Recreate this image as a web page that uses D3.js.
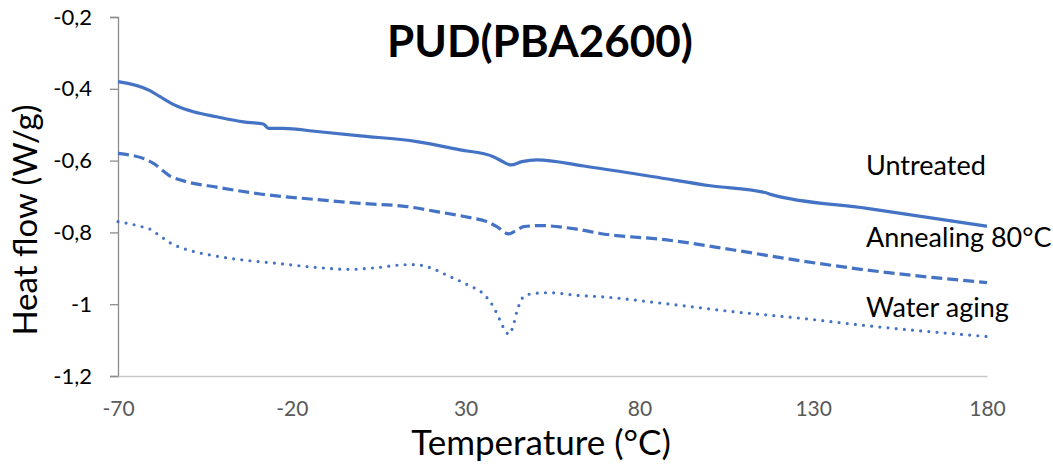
<!DOCTYPE html>
<html>
<head>
<meta charset="utf-8">
<script src="https://cdn.jsdelivr.net/npm/d3@7"></script>
<style>
  html, body { margin: 0; padding: 0; background: #fff; }
  svg { display: block; }
  text { font-family: Lato, "Open Sans", "Liberation Sans", sans-serif; }
</style>
</head>
<body>
<svg id="chart" width="1053" height="466"></svg>
<script>
// DSC heat-flow curves of PUD(PBA2600)
const untreatedTemp = [-70, -60.8, -57.9, -53.1, -48.3, -41.6, -33.9, -28.2, -26.7, -22.4, -12.8, -0.3, 16, 28.4, 38, 40.9, 43, 46.2, 50.5, 64, 84.1, 100.4, 116.2, 117.7, 145.5, 180];
const untreatedFlow = [-0.380, -0.405, -0.422, -0.448, -0.464, -0.478, -0.492, -0.498, -0.510, -0.510, -0.519, -0.531, -0.547, -0.570, -0.589, -0.604, -0.612, -0.603, -0.598, -0.615, -0.645, -0.670, -0.689, -0.694, -0.733, -0.783];

const annealTemp = [-70, -61.7, -59.8, -55, -50.2, -41.6, -29.1, -14.7, -0.3, 13.1, 21.7, 31.3, 36.1, 39, 42.4, 44.3, 46.7, 51.5, 62, 68.7, 87.9, 107.1, 126.3, 145.5, 180];
const annealFlow = [-0.580, -0.598, -0.608, -0.643, -0.659, -0.674, -0.693, -0.707, -0.719, -0.728, -0.742, -0.759, -0.770, -0.784, -0.804, -0.796, -0.784, -0.781, -0.791, -0.803, -0.821, -0.849, -0.879, -0.905, -0.940];

const waterTemp = [-70, -63.2, -60.8, -58.9, -57, -55, -52.6, -48.3, -43.5, -33.9, -24.3, -14.7, -3.2, 3.5, 13.1, 15.5, 20.3, 24.6, 30.8, 35.2, 38, 40, 41.1, 42.5, 43.6, 44.8, 46.9, 49.1, 53.9, 63, 68.7, 87.9, 107.1, 126.3, 145.5, 180];
const waterFlow = [-0.770, -0.784, -0.791, -0.803, -0.816, -0.829, -0.840, -0.853, -0.863, -0.877, -0.886, -0.896, -0.903, -0.899, -0.890, -0.890, -0.900, -0.919, -0.947, -0.972, -1.007, -1.047, -1.069, -1.084, -1.063, -1.019, -0.977, -0.971, -0.968, -0.976, -0.979, -0.999, -1.021, -1.039, -1.060, -1.090];

const seriesNames = ["Untreated", "Annealing 80°C", "Water aging"];
const xTicks = [-70, -20, 30, 80, 130, 180];
const yTicks = [-0.2, -0.4, -0.6, -0.8, -1, -1.2];

const svg = d3.select("#chart");
const plotLeft = 118, plotRight = 987, plotTop = 17, plotBottom = 376;
const color = "#4472C4";

const x = d3.scaleLinear().domain([-70, 180]).range([plotLeft, plotRight]);
const y = d3.scaleLinear().domain([-1.2, -0.2]).range([plotBottom, plotTop]);
const fmt = v => String(+v.toFixed(1)).replace(".", ",");

// Y axis
const yAxis = svg.append("g").attr("transform", `translate(${plotLeft},0)`)
  .call(d3.axisLeft(y).tickValues(yTicks).tickSize(8).tickPadding(18).tickFormat(fmt));
yAxis.select(".domain").attr("stroke", "#8c8c8c").attr("stroke-width", 1.3);
yAxis.selectAll(".tick line").attr("stroke", "#8c8c8c").attr("stroke-width", 1.3);
yAxis.selectAll(".tick text").attr("fill", "#000").attr("font-size", 22)
  .attr("font-family", "Lato, sans-serif");

// X axis
const xAxis = svg.append("g").attr("transform", `translate(0,${plotBottom})`)
  .call(d3.axisBottom(x).tickValues(xTicks).tickSize(0).tickPadding(25).tickFormat(d => d));
xAxis.select(".domain").attr("stroke", "#c8c8c8").attr("stroke-width", 1.3);
xAxis.selectAll(".tick text").attr("fill", "#595959").attr("font-size", 21)
  .attr("font-family", "Lato, sans-serif");

// Curves
const line = d3.line().x(d => x(d[0])).y(d => y(d[1])).curve(d3.curveMonotoneX);
const zip = (t, v) => t.map((d, i) => [d, v[i]]);

svg.append("path").datum(zip(untreatedTemp, untreatedFlow))
  .attr("d", line).attr("fill", "none").attr("stroke", color)
  .attr("stroke-width", 3.2).attr("stroke-linejoin", "round");

svg.append("path").datum(zip(annealTemp, annealFlow))
  .attr("d", line).attr("fill", "none").attr("stroke", color)
  .attr("stroke-width", 3.2).attr("stroke-dasharray", "11,5");

svg.append("path").datum(zip(waterTemp, waterFlow))
  .attr("d", line).attr("fill", "none").attr("stroke", color)
  .attr("stroke-width", 3.2).attr("stroke-linecap", "round").attr("stroke-dasharray", "0,8.2");

// Series labels
const labelY = [175, 247, 317];
svg.selectAll(".series-label").data(seriesNames).join("text")
  .attr("class", "series-label")
  .attr("x", 866).attr("y", (d, i) => labelY[i])
  .attr("font-size", 27).attr("fill", "#000").text(d => d);

// Title
svg.append("text").attr("x", 540).attr("y", 57).attr("text-anchor", "middle")
  .attr("font-size", 44).attr("font-weight", "bold").attr("fill", "#000")
  .text("PUD(PBA2600)");

// Axis titles
svg.append("text").attr("x", 541).attr("y", 455).attr("text-anchor", "middle")
  .attr("font-size", 35).attr("fill", "#000").text("Temperature (°C)");
svg.append("text").attr("transform", "translate(37,220) rotate(-90)")
  .attr("text-anchor", "middle").attr("font-size", 33).attr("fill", "#000")
  .text("Heat flow (W/g)");
</script>
</body>
</html>
